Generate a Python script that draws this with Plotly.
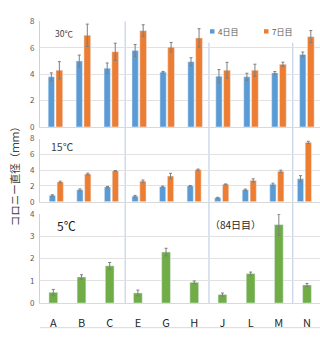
import plotly.graph_objects as go

# Isolates (x categories)
categories = ["A", "B", "C", "E", "G", "H", "J", "L", "M", "N"]

# 30°C colony diameter (mm), day 4 and day 7, with error values
d30_day4 = [3.8, 5.0, 4.45, 5.8, 4.15, 4.95, 3.85, 3.8, 4.1, 5.5]
d30_day4_err = [0.3, 0.45, 0.4, 0.45, 0.06, 0.3, 0.5, 0.27, 0.1, 0.18]
d30_day7 = [4.3, 6.95, 5.7, 7.3, 6.05, 6.75, 4.3, 4.3, 4.75, 6.85]
d30_day7_err = [0.65, 0.85, 0.65, 0.45, 0.36, 0.7, 0.6, 0.46, 0.16, 0.46]

# 15°C colony diameter (mm)
d15_day4 = [0.8, 1.5, 1.85, 0.7, 1.9, 2.0, 0.5, 1.5, 2.2, 2.9]
d15_day4_err = [0.08, 0.12, 0.08, 0.1, 0.08, 0.06, 0.06, 0.1, 0.15, 0.4]
d15_day7 = [2.5, 3.5, 3.9, 2.6, 3.25, 4.05, 2.2, 2.7, 3.85, 7.5]
d15_day7_err = [0.1, 0.12, 0.05, 0.15, 0.35, 0.08, 0.05, 0.2, 0.15, 0.15]

# 5°C colony diameter (mm) at day 84
d5_day84 = [0.48, 1.17, 1.67, 0.45, 2.29, 0.93, 0.38, 1.32, 3.52, 0.81]
d5_day84_err = [0.13, 0.1, 0.15, 0.13, 0.17, 0.06, 0.07, 0.07, 0.47, 0.07]

W, H = 320, 338
BLUE, ORANGE, GREEN = "#5b9bd5", "#ed7d31", "#70ad47"
GRID = "#e2e2e2"
SEP = "#b8c7e3"
ERR = "#7f7f7f"
FONT = "Noto Sans CJK JP"

xs = list(range(len(categories)))


def py(px):
    """pixel row -> paper y"""
    return 1 - px / H


def px_x(px):
    return px / W


def err(vals):
    return dict(type="data", array=vals, visible=True, color=ERR,
                thickness=1, width=1.5)


fig = go.Figure()

# 30°C panel
fig.add_bar(x=xs, y=d30_day4, error_y=err(d30_day4_err), marker_color=BLUE,
            offset=-0.255, width=0.225, xaxis="x", yaxis="y", showlegend=False)
fig.add_bar(x=xs, y=d30_day7, error_y=err(d30_day7_err), marker_color=ORANGE,
            offset=0.025, width=0.24, xaxis="x", yaxis="y", showlegend=False)
# 15°C panel
fig.add_bar(x=xs, y=d15_day4, error_y=err(d15_day4_err), marker_color=BLUE,
            offset=-0.255, width=0.225, xaxis="x2", yaxis="y2", showlegend=False)
fig.add_bar(x=xs, y=d15_day7, error_y=err(d15_day7_err), marker_color=ORANGE,
            offset=0.03, width=0.225, xaxis="x2", yaxis="y2", showlegend=False)
# 5°C panel
fig.add_bar(x=xs, y=d5_day84, error_y=err(d5_day84_err), marker_color=GREEN,
            offset=-0.155, width=0.31, xaxis="x3", yaxis="y3", showlegend=False)

dom_x = [px_x(40), 1]
ytick_font = dict(size=8, color="#595959", family=FONT)

common_x = dict(domain=dom_x, showgrid=False, zeroline=False, showline=True,
                linecolor="#d9d9d9", linewidth=1, fixedrange=True)
common_y = dict(showgrid=True, gridcolor=GRID, gridwidth=1, zeroline=False,
                showline=True, linecolor="#c9d3e6", linewidth=1,
                tickfont=ytick_font, ticks="", ticklabelstandoff=3)

fig.update_layout(
    width=W, height=H,
    margin=dict(l=0, r=0, t=0, b=0),
    paper_bgcolor="white", plot_bgcolor="white",
    font=dict(family=FONT),
    barmode="overlay",
    xaxis=dict(common_x, anchor="y", range=[-0.548, 9.474], showticklabels=False),
    yaxis=dict(common_y, anchor="x", domain=[py(125), py(16)], range=[0, 8],
               tickvals=[0, 2, 4, 6, 8]),
    xaxis2=dict(common_x, anchor="y2", range=[-0.591, 9.565], showticklabels=False),
    yaxis2=dict(common_y, anchor="x2", domain=[py(202.3), py(137)], range=[0, 8],
                tickvals=[0, 2, 4, 6, 8]),
    xaxis3=dict(common_x, anchor="y3", range=[-0.472, 9.461],
                tickvals=xs, ticktext=categories, ticks="",
                tickfont=dict(size=11, color="#262626", family=FONT),
                ticklabelstandoff=10),
    yaxis3=dict(common_y, anchor="x3", domain=[py(307), py(215)], range=[0, 4],
                tickvals=[0, 1, 2, 3, 4]),
)

# group separators (between C|E, H|J, M|N)
shapes = []
for xv, top in [(2.5, 16), (5.5, 38), (8.5, 38)]:
    shapes.append(dict(type="line", xref="x", yref="paper", x0=xv, x1=xv,
                       y0=py(308), y1=py(top), line=dict(color=SEP, width=1),
                       layer="below"))
# bottom frame line
shapes.append(dict(type="line", xref="paper", yref="paper", x0=px_x(40), x1=1,
                   y0=py(332.5), y1=py(332.5), line=dict(color="#d9d9d9", width=1)))
# legend swatches
shapes.append(dict(type="rect", xref="paper", yref="paper",
                   x0=px_x(210), x1=px_x(214.5), y0=py(28.5), y1=py(24),
                   fillcolor=BLUE, line=dict(width=0)))
shapes.append(dict(type="rect", xref="paper", yref="paper",
                   x0=px_x(264), x1=px_x(268.5), y0=py(28.5), y1=py(24),
                   fillcolor=ORANGE, line=dict(width=0)))
fig.update_layout(shapes=shapes)


def label(text, x, y, size, color, xanchor="center", angle=0):
    fig.add_annotation(text=text, xref="paper", yref="paper", x=px_x(x), y=py(y),
                       xanchor=xanchor, yanchor="middle", showarrow=False,
                       textangle=angle,
                       font=dict(size=size, color=color, family=FONT))


label("4日目", 215.5, 26.5, 8, "#595959", xanchor="left")
label("7日目", 269.5, 26.5, 8, "#595959", xanchor="left")
label("30℃", 64, 28, 8.5, "#404040")
label("15℃", 62, 145, 10.5, "#404040")
label("5℃", 66, 227, 12, "#1a1a1a")
label("（84日目）", 235, 226, 10, "#262626")
label("コロニー直径（ｍｍ）", 14, 174, 10.5, "#404040", angle=-90)

fig.write_html("out.html")
